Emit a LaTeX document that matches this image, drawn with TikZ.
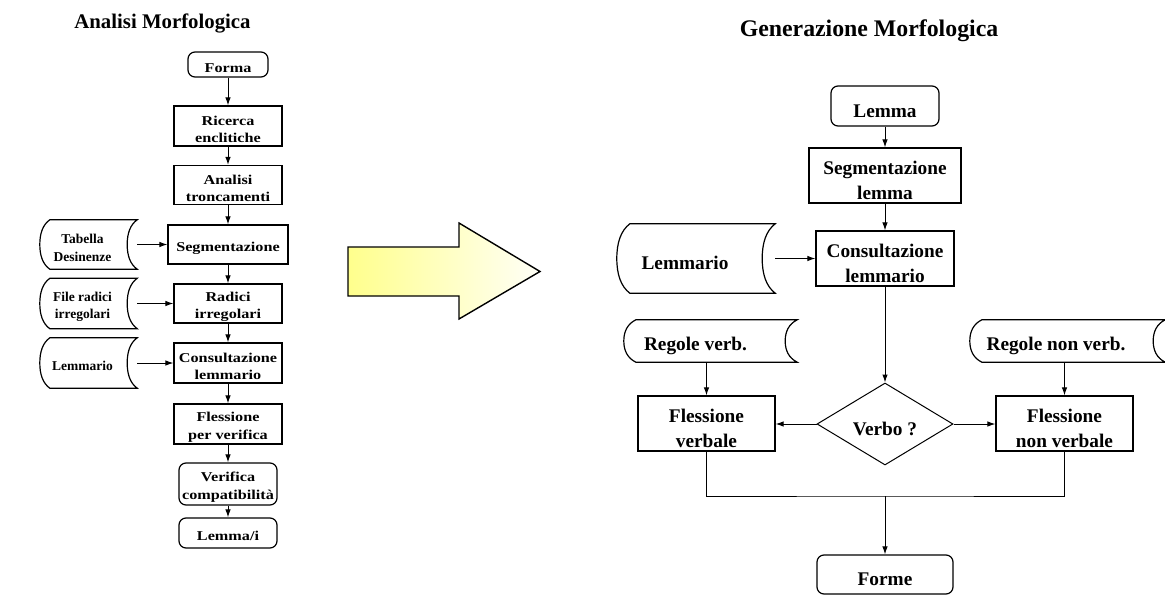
\documentclass[tikz,border=0pt]{standalone}
\usepackage{fontspec}
\setmainfont{Liberation Serif}
\newfontfamily\lboxfont{Liberation Serif}[FakeStretch=1.2]
\usetikzlibrary{arrows.meta,shapes.geometric,calc}
\newcommand\rdn{\rule{0pt}{23pt}}
\newcommand\ldn{\rule{0pt}{16pt}}
\newcommand\lsh{\hspace*{-12pt}}
\newcommand\storedoutline[2]{%
\draw[line width=1.2pt]
 ($(#1.north west)+(#2,0)$) -- (#1.north east)
 .. controls ($(#1.north east)!0.2!(#1.east)+(-0.7*#2,0)$) and ($(#1.north east)!0.55!(#1.east)+(-#2,0)$) .. ($(#1.east)+(-#2,0)$)
 .. controls ($(#1.south east)!0.55!(#1.east)+(-#2,0)$) and ($(#1.south east)!0.2!(#1.east)+(-0.7*#2,0)$) .. (#1.south east)
 -- ($(#1.south west)+(#2,0)$)
 .. controls ($(#1.south west)!0.2!(#1.west)+(0.3*#2,0)$) and ($(#1.south west)!0.55!(#1.west)$) .. (#1.west)
 .. controls ($(#1.north west)!0.55!(#1.west)$) and ($(#1.north west)!0.2!(#1.west)+(0.3*#2,0)$) .. cycle;}
\begin{document}
\begin{tikzpicture}[x=1pt,y=-1pt,
 every node/.style={inner sep=0pt, align=center},
 lfnt/.style={font=\lboxfont\bfseries\fontsize{13.5}{17.5}\selectfont},
 dfnt/.style={font=\bfseries\fontsize{13.5}{17.5}\selectfont},
 rfnt/.style={font=\bfseries\fontsize{19.3}{25}\selectfont},
 procbox/.style={draw, line width=1.2pt},
 termbox/.style={draw, line width=1.2pt, rounded corners=7pt},
 datashape/.style={},
 decision/.style={draw, line width=1pt, diamond, aspect=2},
 conn/.style={line width=1pt, -{Latex[length=8pt,width=5.5pt]}},
 plainline/.style={line width=1pt}]
\useasboundingbox (0,0) rectangle (1165,597);
\fill[white] (0,0) rectangle (1165,597);

% ---------------- left diagram ----------------
\node[font=\bfseries\fontsize{20.8}{24}\selectfont] (titleL) at (162.5,23) {Analisi Morfologica};

\node[termbox,lfnt,minimum width=80pt,minimum height=25pt] (forma) at (228,64.5) {\ldn Forma};
\node[procbox,lfnt,minimum width=108pt,minimum height=40pt] (ricerca) at (228,126) {\ldn Ricerca\\enclitiche};
\node[procbox,lfnt,minimum width=108pt,minimum height=39pt] (analisi) at (228,185) {\ldn Analisi\\troncamenti};
\node[procbox,lfnt,minimum width=120pt,minimum height=39pt] (segm) at (228,244.5) {\ldn Segmentazione};
\node[procbox,lfnt,minimum width=108pt,minimum height=39pt] (radici) at (228,303.5) {\ldn Radici\\irregolari};
\node[procbox,lfnt,minimum width=108pt,minimum height=40pt] (consult) at (228,363) {\ldn Consultazione\\lemmario};
\node[procbox,lfnt,minimum width=108pt,minimum height=40pt] (fless) at (228,424) {\ldn Flessione\\per verifica};
\node[termbox,lfnt,minimum width=98pt,minimum height=42pt] (verifica) at (228,484) {\ldn Verifica\\compatibilità};
\node[termbox,lfnt,minimum width=98pt,minimum height=30pt] (lemmai) at (228,533) {\ldn Lemma/i};

\node[datashape,dfnt,minimum width=97pt,minimum height=49pt] (tabella) at (88.5,244.5) {\lsh\ldn Tabella\\\lsh Desinenze};
\node[datashape,dfnt,minimum width=97pt,minimum height=50pt] (filerad) at (88.5,303.5) {\lsh\ldn File radici\\\lsh irregolari};
\node[datashape,dfnt,minimum width=97pt,minimum height=50pt] (lemmarioL) at (88.5,363) {\lsh\ldn Lemmario};
\storedoutline{tabella}{10}
\storedoutline{filerad}{10}
\storedoutline{lemmarioL}{10}

\draw[conn] (forma) -- (ricerca);
\draw[conn] (ricerca) -- (analisi);
\draw[conn] (analisi) -- (segm);
\draw[conn] (segm) -- (radici);
\draw[conn] (radici) -- (consult);
\draw[conn] (consult) -- (fless);
\draw[conn] (fless) -- (verifica);
\draw[conn] (verifica) -- (lemmai);
\draw[conn] (tabella.east) -- (segm.west);
\draw[conn] (filerad.east) -- (radici.west);
\draw[conn] (lemmarioL.east) -- (consult.west);

% ---------------- big arrow ----------------
\path[left color=yellow!45!white, middle color=yellow!12!white, right color=yellow!3!white]
  (348,247) -- (459,247) -- (459,223) -- (540,271.5) -- (459,319) -- (459,296) -- (348,296) -- cycle;
\draw[line width=1.4pt, line join=miter]
  (348,247) -- (459,247) -- (459,223) -- (540,271.5) -- (459,319) -- (459,296) -- (348,296) -- cycle;

% ---------------- right diagram ----------------
\node[font=\bfseries\fontsize{23.8}{27}\selectfont] (titleR) at (869,30.6) {Generazione Morfologica};

\node[termbox,rfnt,minimum width=108pt,minimum height=40pt] (lemma) at (885,106) {\rdn Lemma};
\node[procbox,rfnt,minimum width=152pt,minimum height=55pt] (seglemma) at (885,175.5) {\rdn Segmentazione\\lemma};
\node[procbox,rfnt,minimum width=138pt,minimum height=55pt] (consl) at (885,258.5) {\rdn Consultazione\\lemmario};
\node[datashape,rfnt,minimum width=158pt,minimum height=69pt] (lemmarioR) at (696,258.5) {\hspace*{-22pt}\rdn Lemmario};
\node[decision,rfnt,minimum width=136pt,minimum height=82pt] (verbo) at (885,424) {\rdn Verbo ?};
\node[datashape,rfnt,minimum width=173pt,minimum height=42pt] (regv) at (710.5,341) {\hspace*{-30pt}\rdn Regole verb.};
\node[datashape,rfnt,minimum width=195pt,minimum height=42pt] (regnv) at (1067.5,341) {\hspace*{-23pt}\rdn Regole non verb.};
\node[procbox,rfnt,minimum width=137pt,minimum height=55pt] (flv) at (706.5,423.5) {\rdn Flessione\\verbale};
\node[procbox,rfnt,minimum width=137pt,minimum height=55pt] (flnv) at (1064.5,423.5) {\rdn Flessione\\non verbale};
\node[termbox,rfnt,minimum width=136pt,minimum height=39pt] (forme) at (885,574.5) {\rdn Forme};
\storedoutline{lemmarioR}{13}
\storedoutline{regv}{12}
\storedoutline{regnv}{12}

\draw[conn] (lemma) -- (seglemma);
\draw[conn] (seglemma) -- (consl);
\draw[conn] (consl) -- (verbo);
\draw[conn] (lemmarioR.east) -- (consl.west);
\draw[conn] (regv.south -| flv.north) -- (flv.north);
\draw[conn] (regnv.south -| flnv.north) -- (flnv.north);
\draw[conn] (verbo.west) -- (verbo.west -| flv.east);
\draw[conn] (verbo.east) -- (verbo.east -| flnv.west);
\coordinate (join) at (885,496);
\draw[plainline] (flv.south) |- (join) -| (flnv.south);
\draw[conn] (join) -- (forme);
\end{tikzpicture}
\end{document}
